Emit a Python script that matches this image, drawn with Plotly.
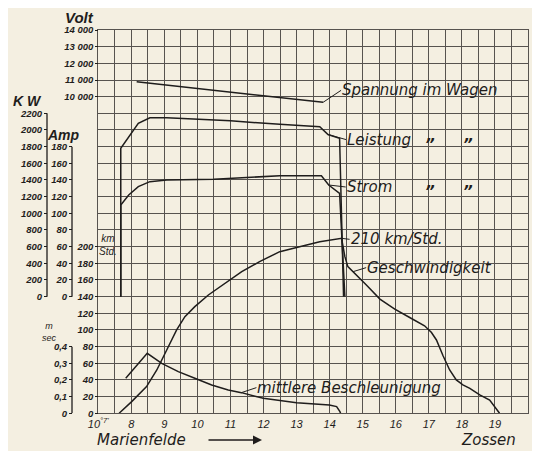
import plotly.graph_objects as go

# ---------------- data ----------------
minute_ticks = list(range(7, 21))
minute_labels = ["10<sup>°7'</sup>"] + [str(m) for m in range(8, 20)] + ["10<sup>°20</sup>"]

volt_ticks = [10000, 11000, 12000, 13000, 14000]
volt_labels = ["10 000", "11 000", "12 000", "13 000", "14 000"]
kw_ticks = list(range(0, 2201, 200))
amp_ticks = list(range(0, 181, 20))
kmh_ticks = list(range(0, 201, 20))
acc_ticks = [0, 0.1, 0.2, 0.3, 0.4]
acc_labels = ["0", "0,1", "0,2", "0,3", "0,4"]

volt_t = [8.16, 12.49, 13.80]
volt_v = [10890, 9930, 9660]

kw_t = [7.68, 7.68, 8.21, 8.56, 9.07, 11.0, 12.49, 13.70, 13.95, 14.30, 14.42]
kw_v = [0, 1780, 2080, 2146, 2146, 2110, 2068, 2040, 1945, 1900, 0]

amp_t = [7.68, 7.68, 7.92, 8.21, 8.56, 9.07, 10.5, 12.49, 13.75, 13.97, 14.30, 14.46]
amp_v = [0, 110, 122, 132, 138, 140, 141, 145, 145, 134, 124, 0]

kmh_t = [7.63, 8.01, 8.46, 8.77, 9.07, 9.37, 9.62, 9.92, 10.33, 10.83, 11.34, 11.88,
         12.49, 13.09, 13.70, 14.36, 14.46, 14.55, 14.71, 15.11, 15.52, 15.97, 16.42,
         16.87, 17.08, 17.23, 17.43, 17.63, 17.83, 18.03, 18.24, 18.54, 18.84, 19.14]
kmh_v = [0, 14, 32, 52, 76, 100, 116, 128, 142, 156, 170, 182,
         194, 200, 206, 210, 188, 176, 170, 154, 137, 125, 115,
         105, 97, 88, 69, 52, 40, 34, 30, 22, 16, 0]

acc_t = [7.83, 8.48, 8.92, 9.42, 9.92, 10.43, 10.93, 11.33, 11.99, 13.0, 13.99, 14.21, 14.31, 14.33]
acc_v = [0.21, 0.36, 0.30, 0.25, 0.21, 0.17, 0.14, 0.124, 0.09, 0.064, 0.05, 0.04, 0.01, 0.0]

# ---------------- geometry helpers ----------------
# the page body has an 8 px margin, so the figure is drawn 8 px right and down
OFF = 8
W, H = 540 - OFF, 451 - OFF
PW = 528.0 - OFF  # paper width (right margin 12)


def pxx(x):
    return (x - OFF) / PW


def pyy(y):
    return (H - (y - OFF)) / H


BG = "#f4efe1"
GRID = "#57534f"
INK = "#1f1d1c"
FONT = "Liberation Sans"
LFONT = "DejaVu Sans"

tickfont = dict(family=FONT, size=9.5, color=INK, style="italic", weight="bold")

fig = go.Figure()

# empty trace so that the grid axis pair (x, y) is a real subplot
fig.add_trace(go.Scatter(x=[], y=[], xaxis="x", yaxis="y", hoverinfo="skip"))

line = dict(color=INK, width=1.5)
fig.add_trace(go.Scatter(x=volt_t, y=volt_v, yaxis="y3", mode="lines", line=line, hoverinfo="skip"))
fig.add_trace(go.Scatter(x=kw_t, y=kw_v, yaxis="y4", mode="lines", line=line, hoverinfo="skip"))
fig.add_trace(go.Scatter(x=amp_t, y=amp_v, yaxis="y5", mode="lines", line=line, hoverinfo="skip"))
fig.add_trace(go.Scatter(x=kmh_t, y=kmh_v, yaxis="y2", mode="lines", line=line, hoverinfo="skip"))
fig.add_trace(go.Scatter(x=acc_t, y=acc_v, yaxis="y6", mode="lines", line=line, hoverinfo="skip"))

half = [7 + i * 0.5 for i in range(27)]
half_text = [minute_labels[minute_ticks.index(int(v))] if v == int(v) else "" for v in half]

YDOM = [pyy(413.3), pyy(30)]
common_free = dict(overlaying="y", anchor="free", side="left", showgrid=False, zeroline=False,
                   showline=False, ticks="outside", ticklen=3, tickwidth=1, tickcolor=INK,
                   tickfont=tickfont, fixedrange=True, automargin=False, domain=YDOM)

fig.update_layout(
    width=W, height=H, autosize=False,
    margin=dict(l=0, r=W + OFF - 528, t=0, b=0, pad=0, autoexpand=False),
    paper_bgcolor=BG, plot_bgcolor=BG,
    showlegend=False,
    xaxis=dict(domain=[pxx(98.3), 1], range=[7, 20], tickvals=half, ticktext=half_text,
               showgrid=True, gridcolor=GRID, gridwidth=1, ticks="", showline=True,
               mirror=True, linecolor=GRID, linewidth=1, zeroline=False, anchor="y",
               automargin=False, fixedrange=True, ticklabelstandoff=0,
               tickfont=dict(family=FONT, size=11, color=INK, style="italic")),
    yaxis=dict(domain=YDOM, range=[0, 23], tickvals=list(range(24)),
               showticklabels=False, showgrid=True, gridcolor=GRID, gridwidth=1,
               showline=True, mirror=True, linecolor=GRID, zeroline=False, ticks="",
               automargin=False, fixedrange=True),
    yaxis2=dict(range=[0, 460], tickvals=kmh_ticks, position=pxx(98.3), **common_free),
    yaxis3=dict(range=[-9000, 14000], tickvals=volt_ticks, ticktext=volt_labels,
                position=pxx(98.3), **common_free),
    yaxis4=dict(range=[-1400, 3200], tickvals=kw_ticks, position=pxx(47), **common_free),
    yaxis5=dict(range=[-140, 320], tickvals=amp_ticks, position=pxx(72), **common_free),
    yaxis6=dict(range=[0, 2.3], tickvals=acc_ticks, ticktext=acc_labels,
                position=pxx(72), **common_free),
)

# partial axis lines
for pos, ref, ticks in [(47, "y4", kw_ticks), (72, "y5", amp_ticks), (72, "y6", acc_ticks)]:
    fig.add_shape(type="line", xref="paper", x0=pxx(pos), x1=pxx(pos), yref=ref,
                  y0=ticks[0], y1=ticks[-1], line=dict(color=INK, width=1.3))


def ptext(text, x, y, font, xanchor="center"):
    fig.add_annotation(text=text, xref="paper", yref="paper", x=pxx(x), y=pyy(y),
                       xanchor=xanchor, yanchor="middle", showarrow=False, font=font)


tfont = dict(family=FONT, size=16, color=INK, style="italic", weight="bold")
ptext("Volt", 79, 17, dict(tfont, size=15))
ptext("K W", 27, 101, dict(tfont, size=14))
ptext("Amp", 63, 135, dict(tfont, size=14))
ptext("km<br>Std.", 108, 245, dict(tfont, size=10, weight="normal"))
ptext("m<br>sec", 49, 332, dict(tfont, size=9, weight="normal"))

lfont = dict(family=LFONT, size=15, color=INK, style="italic")


def label(text, x, y, yref, ax, ay):
    fig.add_annotation(text=text, x=x, y=y, xref="x", yref=yref, ax=ax, ay=ay,
                       showarrow=True, arrowhead=0, arrowwidth=1, arrowcolor=INK,
                       xanchor="left", yanchor="middle", font=lfont, standoff=0, borderpad=0)


label("Spannung im Wagen", volt_t[-1], volt_v[-1], "y3", 18, -12)
label("Leistung", kw_t[8], kw_v[8], "y4", 18, 5)
label("Strom", amp_t[9], amp_v[9], "y5", 17, 2)
label("210 km/Std.", kmh_t[15], kmh_v[15], "y2", 8, 1)
label("Geschwindigkeit", kmh_t[18], kmh_v[18], "y2", 13, -4)
label("mittlere Beschleunigung", acc_t[7], acc_v[7], "y6", 15, -5)

for x, y in [(430, 145), (468, 145), (430, 192), (468, 192)]:
    ptext("”", x, y, dict(lfont, size=15, weight="bold"))

ptext("Marienfelde", 95, 440, dict(lfont, size=15), xanchor="left")
ptext("Zossen", 518, 440, dict(lfont, size=15), xanchor="right")
# arrow after "Marienfelde"
fig.add_annotation(text="", xref="paper", yref="paper", x=pxx(262), y=pyy(440),
                   ax=-55, ay=0, showarrow=True, arrowhead=2, arrowsize=1.2,
                   arrowwidth=1.5, arrowcolor=INK, standoff=0)

fig.write_html("out.html")
